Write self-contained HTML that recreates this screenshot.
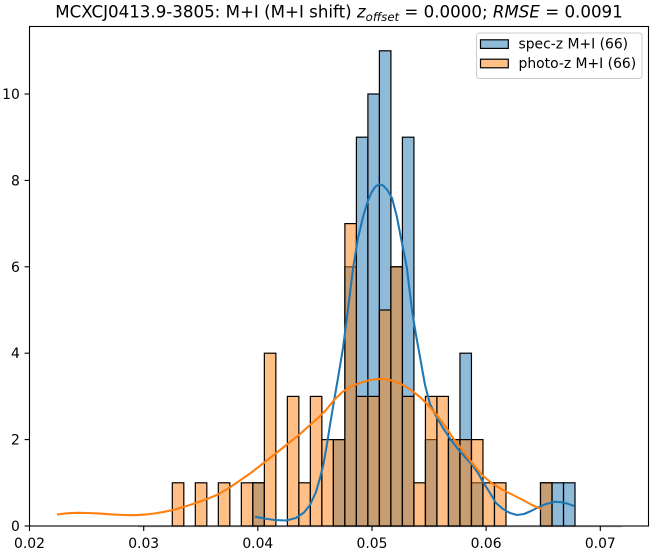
<!DOCTYPE html>
<html>
<head>
<meta charset="utf-8">
<style>
html,body{margin:0;padding:0;background:#fff;}
svg{display:block;}
text{font-family:"DejaVu Sans","Liberation Sans",sans-serif;fill:#000;}
</style>
</head>
<body>
<svg width="651" height="552" viewBox="0 0 651 552" xmlns="http://www.w3.org/2000/svg">
<rect x="0" y="0" width="651" height="552" fill="#fff"/>

<!-- Blue (spec-z) bars -->
<g fill="rgba(31,119,180,0.5)" stroke="#000" stroke-width="1.2">
<rect x="252.84" y="482.8" width="11.51" height="43.2"/>
<rect x="333.38" y="439.6" width="11.51" height="86.4"/>
<rect x="344.89" y="266.8" width="11.51" height="259.2"/>
<rect x="356.40" y="137.2" width="11.51" height="388.8"/>
<rect x="367.90" y="94" width="11.51" height="432"/>
<rect x="379.41" y="50.8" width="11.51" height="475.2"/>
<rect x="390.91" y="266.8" width="11.51" height="259.2"/>
<rect x="402.42" y="137.2" width="11.51" height="388.8"/>
<rect x="425.43" y="439.6" width="11.51" height="86.4"/>
<rect x="448.44" y="439.6" width="11.51" height="86.4"/>
<rect x="459.95" y="353.2" width="11.51" height="172.8"/>
<rect x="471.46" y="482.8" width="11.51" height="43.2"/>
<rect x="540.49" y="482.8" width="11.51" height="43.2"/>
<rect x="552.00" y="482.8" width="11.51" height="43.2"/>
<rect x="563.50" y="482.8" width="11.51" height="43.2"/>
</g>

<!-- Orange (photo-z) bars -->
<g fill="rgba(255,127,14,0.5)" stroke="#000" stroke-width="1.2">
<rect x="172.30" y="482.8" width="11.51" height="43.2"/>
<rect x="195.31" y="482.8" width="11.51" height="43.2"/>
<rect x="218.32" y="482.8" width="11.51" height="43.2"/>
<rect x="241.34" y="482.8" width="11.51" height="43.2"/>
<rect x="252.84" y="482.8" width="11.51" height="43.2"/>
<rect x="264.35" y="353.2" width="11.51" height="172.8"/>
<rect x="287.36" y="396.4" width="11.51" height="129.6"/>
<rect x="298.87" y="482.8" width="11.51" height="43.2"/>
<rect x="310.37" y="396.4" width="11.51" height="129.6"/>
<rect x="321.88" y="439.6" width="11.51" height="86.4"/>
<rect x="333.38" y="439.6" width="11.51" height="86.4"/>
<rect x="344.89" y="223.6" width="11.51" height="302.4"/>
<rect x="356.40" y="396.4" width="11.51" height="129.6"/>
<rect x="367.90" y="396.4" width="11.51" height="129.6"/>
<rect x="379.41" y="310" width="11.51" height="216"/>
<rect x="390.91" y="266.8" width="11.51" height="259.2"/>
<rect x="402.42" y="396.4" width="11.51" height="129.6"/>
<rect x="413.93" y="482.8" width="11.51" height="43.2"/>
<rect x="425.43" y="396.4" width="11.51" height="129.6"/>
<rect x="436.94" y="396.4" width="11.51" height="129.6"/>
<rect x="448.44" y="439.6" width="11.51" height="86.4"/>
<rect x="459.95" y="439.6" width="11.51" height="86.4"/>
<rect x="471.46" y="439.6" width="11.51" height="86.4"/>
<rect x="482.96" y="482.8" width="11.51" height="43.2"/>
<rect x="494.47" y="482.8" width="11.51" height="43.2"/>
<rect x="540.49" y="482.8" width="11.51" height="43.2"/>
</g>

<!-- zero-height bins hint -->
<line x1="138" y1="526.8" x2="622" y2="526.8" stroke="rgba(0,0,0,0.25)" stroke-width="1"/>

<!-- KDE curves -->
<polyline fill="none" stroke="#1f77b4" stroke-width="2.08" stroke-linejoin="round"
points="255,516.7 265,518.6 275,520 286,520.5 296,518 304,512.5 310,505 316,492 320,478 323.5,464 327,444 330,425 334,401 338,378 343,348 348,309 353,269 358,238 363,217 367.5,202 371.7,192 375.5,186.5 379.4,184.3 383,185.5 387,189.5 392,198 396.7,216 401,238 406.7,266.7 412,310 416,335 420,357 425,385 430,404 436,416 443,428 451,440 458,449 466,458 473,466 478,473 483,482 490,493 496,503 503,509 510,513 517,515 524,514 531,511 538,507.5 546,504 555,501.7 562,502.3 568,503.8 574,506"/>
<polyline fill="none" stroke="#ff7f0e" stroke-width="2.08" stroke-linejoin="round"
points="57,514.5 67,513.3 77,512.8 88,513 100,513.6 112,514.4 124,515 135,515.2 145,514.6 155,513.4 165,511.7 175,509.5 185,506.5 196,503 207,499 218,494.5 229,488 240,480.5 252,472 263,463.5 275,454 287,444.5 300,434 310,425 318,418 326,410 335,399 343,391.5 351,386.5 360,383 368,380.5 376,379.2 382,379 389,379.8 395,381.5 403,385 411,390 420,397 428,405 436,414 445,426 453,438 463,451 473,464 483,476 493,484 503,490 513,495 523,500 532,505 541,509"/>

<!-- Axes spines -->
<rect x="29.5" y="26.5" width="619" height="499.5" fill="none" stroke="#000" stroke-width="1.1"/>

<!-- X ticks -->
<g stroke="#000" stroke-width="1.1">
<line x1="29.5" y1="526" x2="29.5" y2="531"/>
<line x1="143.7" y1="526" x2="143.7" y2="531"/>
<line x1="257.8" y1="526" x2="257.8" y2="531"/>
<line x1="372.0" y1="526" x2="372.0" y2="531"/>
<line x1="486.1" y1="526" x2="486.1" y2="531"/>
<line x1="600.3" y1="526" x2="600.3" y2="531"/>
</g>
<g font-size="13.9" text-anchor="middle">
<text x="29.5" y="548">0.02</text>
<text x="143.7" y="548">0.03</text>
<text x="257.8" y="548">0.04</text>
<text x="372.0" y="548">0.05</text>
<text x="486.1" y="548">0.06</text>
<text x="600.3" y="548">0.07</text>
</g>

<!-- Y ticks -->
<g stroke="#000" stroke-width="1.1">
<line x1="24.6" y1="526" x2="29.5" y2="526"/>
<line x1="24.6" y1="439.6" x2="29.5" y2="439.6"/>
<line x1="24.6" y1="353.2" x2="29.5" y2="353.2"/>
<line x1="24.6" y1="266.8" x2="29.5" y2="266.8"/>
<line x1="24.6" y1="180.4" x2="29.5" y2="180.4"/>
<line x1="24.6" y1="94" x2="29.5" y2="94"/>
</g>
<g font-size="13.9" text-anchor="end">
<text x="19.8" y="531">0</text>
<text x="19.8" y="444.6">2</text>
<text x="19.8" y="358.2">4</text>
<text x="19.8" y="271.8">6</text>
<text x="19.8" y="185.4">8</text>
<text x="19.8" y="99">10</text>
</g>

<!-- Legend -->
<rect x="476.5" y="33" width="165.5" height="45.5" rx="2.8" ry="2.8" fill="rgba(255,255,255,0.8)" stroke="#cccccc" stroke-width="1"/>
<rect x="480.5" y="39.8" width="27.8" height="8.6" fill="rgba(31,119,180,0.5)" stroke="#000" stroke-width="1.2"/>
<rect x="480.5" y="59.2" width="27.8" height="8.6" fill="rgba(255,127,14,0.5)" stroke="#000" stroke-width="1.2"/>
<text x="518.5" y="48.5" font-size="13.9">spec-z M+I (66)</text>
<text x="518.5" y="67.8" font-size="13.9">photo-z M+I (66)</text>

<!-- Title -->
<text x="339" y="17.7" font-size="16.67" text-anchor="middle">MCXCJ0413.9-3805: M+I (M+I shift) <tspan font-style="italic">z</tspan><tspan font-style="italic" font-size="11.7" dy="3.4">offset</tspan><tspan dy="-3.4"> = 0.0000; </tspan><tspan font-style="italic">RMSE</tspan> = 0.0091</text>
</svg>
</body>
</html>
